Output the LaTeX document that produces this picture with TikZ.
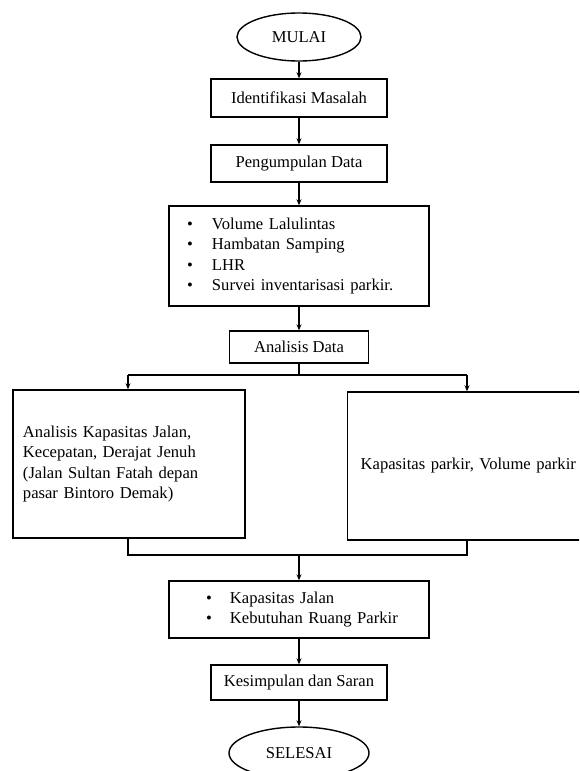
\documentclass[tikz,border=0pt]{standalone}
\usepackage{fontspec}
\setmainfont{Liberation Serif}
\usetikzlibrary{arrows.meta,shapes.geometric}
\begin{document}
\begin{tikzpicture}[x=1pt,y=-1pt,
  every node/.style={font=\fontsize{16.6}{20.5}\selectfont, line width=1.4pt},
  box/.style={draw, rectangle, inner sep=0pt, align=center},
  oval/.style={draw, ellipse, inner sep=0pt},
  arr/.style={line width=1.4pt, -{Stealth[length=6pt,width=5pt]}},
  ln/.style={line width=1.4pt}]
\useasboundingbox (0,0) rectangle (579,771);
\clip (0,0) rectangle (579,771);

\node[oval, minimum width=124pt, minimum height=48pt] (mulai) at (299,37) {MULAI};
\node[box, minimum width=176pt, minimum height=38pt] (ident) at (299,98) {Identifikasi Masalah};
\node[box, minimum width=176pt, minimum height=37pt] (kumpul) at (299,163.5) {Pengumpulan Data};
\node[box, text width=224pt, inner xsep=18pt, minimum height=100pt, align=left] (data) at (299,256)
  {\makebox[25pt][l]{•}Volume Lalulintas\\
   \makebox[25pt][l]{•}Hambatan Samping\\
   \makebox[25pt][l]{•}LHR\\
   \makebox[25pt][l]{•}Survei inventarisasi parkir.};
\node[box, minimum width=139pt, minimum height=32pt] (anls) at (299,347) {Analisis Data};

\node[box, text width=212pt, inner xsep=10pt, minimum height=148pt, align=left] (lbox) at (129,464)
  {Analisis Kapasitas Jalan,\\
   Kecepatan, Derajat Jenuh\\
   (Jalan Sultan Fatah depan\\
   pasar Bintoro Demak)\\[7pt]};
\node[box, text width=217pt, inner xsep=13pt, minimum height=148pt, align=left, anchor=west] (rbox) at (347,466)
  {Kapasitas parkir, Volume parkir};

\node[box, text width=206pt, inner xsep=27pt, minimum height=57pt, align=left] (hasil) at (299,609.5)
  {\hspace*{10pt}\makebox[24pt][l]{•}Kapasitas Jalan\\
   \hspace*{10pt}\makebox[24pt][l]{•}Kebutuhan Ruang Parkir};
\node[box, minimum width=176pt, minimum height=35pt] (simpul) at (299,682.5) {Kesimpulan dan Saran};
\node[oval, minimum width=140pt, minimum height=52pt] (selesai) at (299,753) {SELESAI};

\coordinate (splitL) at (128,375);
\coordinate (splitR) at (467,375);
\coordinate (mergeL) at (128,555);
\coordinate (mergeR) at (467,555);

\draw[arr] (mulai) -- (ident);
\draw[arr] (ident) -- (kumpul);
\draw[arr] (kumpul) -- (data);
\draw[arr] (data.south -| anls.north) -- (anls);
\draw[ln] (anls.south) |- (splitL);
\draw[ln] (anls.south) |- (splitR);
\draw[arr] (splitL) -- (splitL |- lbox.north);
\draw[arr] (splitR) -- (splitR |- rbox.north);
\draw[ln] (mergeL |- lbox.south) -- (mergeL) -- (mergeR) -- (mergeR |- rbox.south);
\draw[arr] (mergeL -| hasil.north) -- (hasil);
\draw[arr] (hasil) -- (simpul);
\draw[arr] (simpul) -- (selesai);
\end{tikzpicture}
\end{document}
